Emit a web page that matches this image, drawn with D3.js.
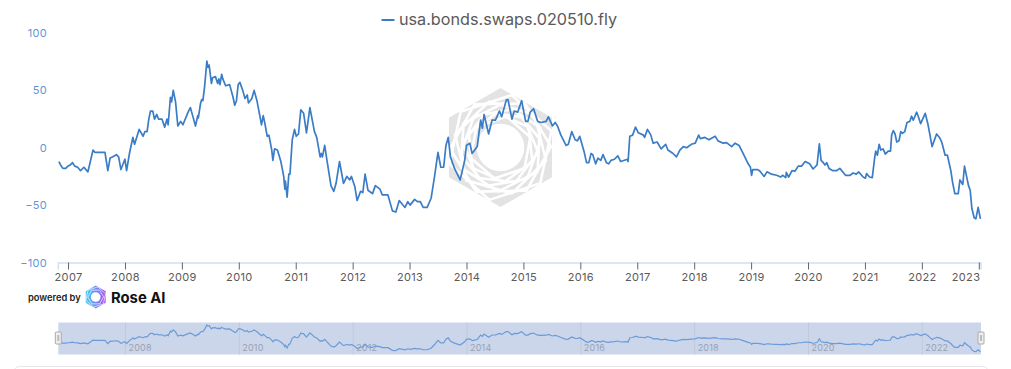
<!DOCTYPE html>
<html>
<head>
<meta charset="utf-8">
<script src="https://cdn.jsdelivr.net/npm/d3@7"></script>
<style>
  html, body { margin: 0; padding: 0; background: #fff; }
  svg { display: block; font-family: Inter, "Noto Sans", sans-serif; }
</style>
</head>
<body>
<svg id="chart" width="1011" height="369"></svg>
<script>
// data ------------------------------------------------------------------------
const seriesName = 'usa.bonds.swaps.020510.fly';

// time as decimal years, one entry per value below
const years = [
  2006.83,2006.86,2006.90,2006.95,2006.99,2007.03,2007.07,2007.11,2007.16,2007.21,2007.27,2007.34,
  2007.43,2007.46,2007.55,2007.64,2007.69,2007.73,2007.77,2007.81,2007.84,2007.88,2007.92,2007.99,
  2008.02,2008.07,2008.13,2008.16,2008.24,2008.31,2008.34,2008.38,2008.41,2008.44,2008.48,2008.51,
  2008.55,2008.58,2008.64,2008.69,2008.73,2008.75,2008.79,2008.81,2008.84,2008.88,2008.92,2008.97,
  2009.01,2009.10,2009.14,2009.18,2009.23,2009.27,2009.28,2009.32,2009.34,2009.36,2009.39,2009.43,
  2009.45,2009.47,2009.51,2009.53,2009.58,2009.62,2009.64,2009.66,2009.69,2009.71,2009.76,2009.83,
  2009.89,2009.92,2009.95,2009.98,2010.01,2010.06,2010.10,2010.14,2010.16,2010.22,2010.26,2010.31,
  2010.36,2010.39,2010.42,2010.45,2010.49,2010.52,2010.57,2010.59,2010.62,2010.67,2010.73,2010.78,
  2010.80,2010.81,2010.84,2010.87,2010.89,2010.93,2010.97,2011.00,2011.04,2011.08,2011.13,2011.18,
  2011.24,2011.32,2011.36,2011.42,2011.44,2011.46,2011.50,2011.54,2011.61,2011.66,2011.70,2011.76,
  2011.83,2011.89,2011.94,2011.97,2012.03,2012.07,2012.13,2012.17,2012.21,2012.26,2012.34,2012.39,
  2012.47,2012.51,2012.61,2012.69,2012.75,2012.81,2012.91,2012.96,2013.00,2013.08,2013.13,2013.18,
  2013.23,2013.30,2013.37,2013.43,2013.49,2013.54,2013.59,2013.63,2013.67,2013.71,2013.78,2013.88,
  2013.96,2013.99,2014.05,2014.09,2014.18,2014.24,2014.27,2014.30,2014.38,2014.44,2014.50,2014.57,
  2014.61,2014.69,2014.72,2014.79,2014.83,2014.89,2014.96,2015.03,2015.07,2015.11,2015.17,2015.24,
  2015.30,2015.39,2015.43,2015.50,2015.55,2015.59,2015.65,2015.74,2015.78,2015.84,2015.90,2015.94,
  2015.98,2016.06,2016.10,2016.14,2016.18,2016.21,2016.26,2016.30,2016.35,2016.39,2016.45,2016.49,
  2016.53,2016.59,2016.65,2016.70,2016.82,2016.83,2016.86,2016.91,2016.96,2017.01,2017.10,2017.12,
  2017.17,2017.23,2017.27,2017.34,2017.41,2017.49,2017.53,2017.62,2017.68,2017.74,2017.80,2017.86,
  2017.94,2018.01,2018.07,2018.10,2018.18,2018.25,2018.32,2018.36,2018.41,2018.50,2018.56,2018.65,
  2018.71,2018.78,2018.85,2018.94,2018.98,2019.00,2019.02,2019.10,2019.14,2019.22,2019.27,2019.35,
  2019.44,2019.51,2019.55,2019.60,2019.61,2019.65,2019.71,2019.76,2019.82,2019.88,2019.94,2020.02,
  2020.08,2020.15,2020.19,2020.22,2020.26,2020.29,2020.32,2020.36,2020.43,2020.49,2020.55,2020.65,
  2020.73,2020.78,2020.84,2020.88,2020.96,2021.00,2021.02,2021.07,2021.12,2021.16,2021.18,2021.21,
  2021.24,2021.27,2021.31,2021.35,2021.40,2021.44,2021.46,2021.49,2021.52,2021.55,2021.59,2021.62,
  2021.65,2021.69,2021.73,2021.78,2021.81,2021.84,2021.90,2021.93,2021.97,2022.05,2022.10,2022.13,
  2022.17,2022.25,2022.30,2022.34,2022.40,2022.44,2022.50,2022.53,2022.57,2022.63,2022.66,2022.71,
  2022.74,2022.81,2022.84,2022.87,2022.91,2022.94,2022.98,2023.02
];

const fly = [
  -12,-15,-18,-18,-16,-15,-13,-16,-17,-20,-17,-21,
  -2,-4,-4,-4,-20,-9,-8,-7,-6,-8,-19,-10,
  -20,-5,9,3,16,10,14,14,25,32,32,25,
  29,25,25,18,25,20,44,40,50,40,19,23,
  20,31,35,28,19,28,26,39,42,41,53,75.5,
  70,72,56,61,62,56,60,55,64,60,54,55,
  44,37,41,55,57,50,43,46,39,43,50,41,
  28,20,28,21,10,11,-2,-11,-1,-2,-12,-25,
  -36,-29,-43,-23,-23,7,16,10,12,33,30,13,
  35,14,9,-8,-5,-8,2,-11,-33,-38,-31,-12,
  -31,-25,-28,-25,-34,-46,-38,-39,-23,-37,-40,-33,
  -36,-41,-41,-55,-56,-46,-52,-47,-50,-45,-47,-47,
  -52,-52,-44,-25,-4,-17,-17,2,9,-8,-18,-28,
  -11,2,4,-5,1,24,17,29,12,24,24,32,
  27,41.5,42,25,32,31,41,23,23,31,34,23,
  22,23,27,19,22,19,11,2,3,14,7,6,
  10,-4,-13,-13,-5,-6,-14,-9,-11,-6,-13,-14,
  -11,-10,-7,-12,-10,-12,10,11,18,13,11,9,
  16,11,4,5,-1,3,-2,-5,-8,-2,1,0,
  3,4,11,8,9,7,9,10,6,4,4.5,1,
  4,2,-5,-14,-17,-24,-19,-19,-20,-25,-21,-23,
  -24,-25.5,-24,-26,-21.5,-25.5,-20,-20.5,-16,-16,-12,-14,
  -18.5,-15,3.5,-11,-13,-15,-13,-18,-20,-20,-18,-24,
  -24,-22,-23,-21,-25.5,-26.5,-22.5,-25.5,-26,-9.5,-3,-6.5,
  3,-2,-1,-5.5,-3,-3,11,15,12,5,6,14,
  12.5,14,22,23,27.5,24,31,27,21,30,20,12,
  1,12,9,5,-6.5,-6.5,-20,-30,-40,-40,-28,-32,
  -16,-33,-37,-53,-61,-62,-52,-62
];

const tickYears = d3.range(2007, 2024);
const yTicks = [100, 50, 0, -50, -100];
const sliderYears = [2008, 2010, 2012, 2014, 2016, 2018, 2020, 2022];

// colours --------------------------------------------------------------------
const lineColor = '#3a7cc6';
const yLabelColor = '#5f95d6';
const axisColor = '#d3dff2';
const tickColor = '#666';
const textColor = '#5a5a5a';

// scales ---------------------------------------------------------------------
const svg = d3.select('#chart');

const x = d3.scaleLinear().domain([2006.82, 2023.03]).range([58.3, 981]);
const y = d3.scaleLinear().domain([-100, 100]).range([262.5, 33]);
const yMini = d3.scaleLinear().domain([-62, 75.5]).range([351.7, 325]);

// watermark, nested hexagons turned a bit more each step ----------------------
function hexPoints(r) {
  return d3.range(6).map(i => [i * Math.PI / 3, r]);
}
const hexLine = d3.lineRadial().curve(d3.curveLinearClosed);

function drawRose(cx, cy, R, fill, stroke, steps, width, hole) {
  const g = svg.append('g').attr('transform', `translate(${cx},${cy})`);
  g.append('path').attr('d', hexLine(hexPoints(R))).attr('fill', fill);
  d3.range(steps).forEach(i => {
    const r = R * (0.9 - i * 0.42 / steps);
    g.append('path')
      .attr('d', hexLine(hexPoints(r)))
      .attr('transform', `rotate(${12 + i * 17})`)
      .attr('fill', 'none')
      .attr('stroke', stroke)
      .attr('stroke-width', width);
  });
  g.append('circle').attr('r', R * hole).attr('fill', stroke);
}

drawRose(500.5, 147.5, 59.5, '#e3e3e3', '#fff', 8, 2.6, 0.4);

// legend ---------------------------------------------------------------------
svg.append('line')
  .attr('x1', 381.5).attr('x2', 394.5).attr('y1', 20).attr('y2', 20)
  .attr('stroke', lineColor).attr('stroke-width', 2);
svg.append('text')
  .attr('x', 399).attr('y', 25)
  .attr('font-size', 16.2).attr('fill', textColor)
  .text(seriesName);

// axes -----------------------------------------------------------------------
const xAxis = svg.append('g')
  .attr('transform', `translate(-0.5,${y(-100)})`)
  .call(d3.axisBottom(x).tickValues(tickYears).tickFormat(d3.format('d')).tickSize(7).tickPadding(4));
xAxis.select('.domain').attr('stroke', axisColor).attr('stroke-width', 1.5);
xAxis.selectAll('.tick line').attr('stroke', tickColor);
xAxis.selectAll('.tick text')
  .attr('font-family', 'Inter').attr('font-size', 11).attr('fill', textColor)
  .attr('letter-spacing', 0.35);
// last label does not fit under its tick, so it ends there
xAxis.selectAll('.tick text').filter(d => d === 2023).attr('text-anchor', 'end').attr('dx', 1);

const yAxis = svg.append('g')
  .attr('transform', 'translate(58,0)')
  .call(d3.axisLeft(y).tickValues(yTicks).tickSize(0).tickPadding(11));
yAxis.select('.domain').remove();
yAxis.selectAll('.tick text')
  .attr('font-family', 'Inter').attr('font-size', 11).attr('fill', yLabelColor)
  .attr('letter-spacing', 0.3);

// main line ------------------------------------------------------------------
const line = d3.line().x((d, i) => x(years[i])).y(d => y(d));
svg.append('path')
  .datum(fly)
  .attr('d', line)
  .attr('fill', 'none')
  .attr('stroke', lineColor)
  .attr('stroke-width', 1.7)
  .attr('stroke-linejoin', 'round');

// powered by -----------------------------------------------------------------
svg.append('text')
  .attr('x', 28).attr('y', 301)
  .attr('font-size', 9.3).attr('font-weight', 600).attr('fill', '#222')
  .text('powered by');

const defs = svg.append('defs');
const grad = defs.append('linearGradient').attr('id', 'rose').attr('x1', 0).attr('x2', 1).attr('y1', 0).attr('y2', 0)
  .attr('gradientUnits', 'objectBoundingBox');
grad.append('stop').attr('offset', 0).attr('stop-color', '#3ccbf7');
grad.append('stop').attr('offset', 0.5).attr('stop-color', '#6f8ff5');
grad.append('stop').attr('offset', 1).attr('stop-color', '#b04cf0');
drawRose(95.7, 297, 11.5, 'url(#rose)', '#fff', 2, 0.6, 0.42);

svg.append('text')
  .attr('x', 111).attr('y', 303)
  .attr('font-size', 14.8).attr('font-weight', 700).attr('fill', '#111')
  .text('Rose AI');

// data zoom slider -----------------------------------------------------------
svg.append('rect')
  .attr('x', 58.3).attr('y', 322.5)
  .attr('width', 922.7).attr('height', 32)
  .attr('fill', '#ccd6eb');

svg.selectAll('.slider-div')
  .data(sliderYears)
  .enter()
  .append('line')
  .attr('class', 'slider-div')
  .attr('x1', d => x(d)).attr('x2', d => x(d))
  .attr('y1', 322.5).attr('y2', 354.5)
  .attr('stroke', '#bfcadf');

svg.selectAll('.slider-label')
  .data(sliderYears)
  .enter()
  .append('text')
  .attr('class', 'slider-label')
  .attr('x', d => x(d) + 3)
  .attr('y', 351)
  .attr('font-size', 9)
  .attr('letter-spacing', 0.2)
  .attr('fill', '#98a1b3')
  .text(d => d);

const miniLine = d3.line().x((d, i) => x(years[i])).y(d => yMini(d));
svg.append('path')
  .datum(fly)
  .attr('d', miniLine)
  .attr('fill', 'none')
  .attr('stroke', '#6a9bd8')
  .attr('stroke-width', 1.2);

[x.range()[0], x.range()[1]].forEach(hx => {
  svg.append('rect')
    .attr('x', hx - 3).attr('y', 332)
    .attr('width', 6).attr('height', 12).attr('rx', 1)
    .attr('fill', '#eee').attr('stroke', '#aaa').attr('stroke-width', 1);
  svg.append('rect')
    .attr('x', hx - 1).attr('y', 335)
    .attr('width', 2).attr('height', 6)
    .attr('fill', '#bbb');
});

// top edge of the panel under the chart
svg.append('rect')
  .attr('x', 13.5).attr('y', 366.5)
  .attr('width', 975).attr('height', 30).attr('rx', 6)
  .attr('fill', '#fff').attr('stroke', '#e6e6e6');
</script>
</body>
</html>
